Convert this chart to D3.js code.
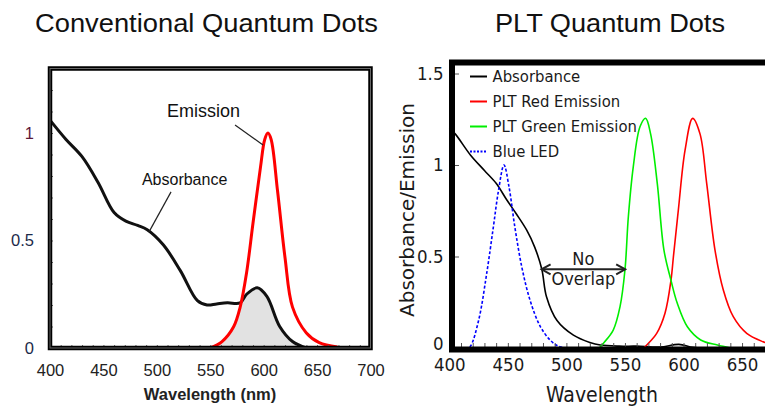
<!DOCTYPE html>
<html>
<head>
<meta charset="utf-8">
<script src="https://cdn.jsdelivr.net/npm/d3@7"></script>
<style>
  body { margin: 0; background: #fff; }
  .cond { font-family: "DejaVu Sans Condensed", "DejaVu Sans", sans-serif; font-stretch: condensed; }
  .arial { font-family: "Liberation Sans", Arial, sans-serif; }
</style>
</head>
<body>
<script>
// ---- data ----
var titles = ["Conventional Quantum Dots", "PLT Quantum Dots"];

// conventional QD panel (wavelength nm, value)
var convAbsorbance = [[400,1.06],[415,0.97],[430,0.89],[445,0.77],[460,0.63],[471,0.59],[482,0.57],[491,0.55],[506,0.48],
  [522,0.36],[538,0.22],[547,0.20],[556,0.205],[566,0.21],[578,0.21],[584,0.25],[594,0.28],[603,0.24],[615,0.10],[627,0.03],[640,0]];
var convEmission = [[550,0],[561,0.03],[572,0.10],[578,0.19],[584,0.35],[590,0.58],[597,0.84],[601,0.97],[604,1.0],[607,0.97],
  [613,0.73],[620,0.42],[627,0.19],[640,0.07],[652,0.025],[669,0.005]];
var convXTicks = [400,450,500,550,600,650,700];
var convYTicks = [0,0.5,1];

// PLT QD panel
var pltAbsorbance = [[400,1.20],[405,1.17],[418,1.055],[430,0.97],[440,0.90],[449,0.81],[457,0.735],[466,0.645],[473,0.55],
  [479,0.43],[483,0.28],[492,0.15],[506,0.07],[520,0.03],[529,0.016],[545,0.01],[560,0.01],[580,0.005],[596,0.02],[608,0.004],[620,0],[680,0]];
var pltRed = [[566,0],[568.6,0.016],[577.1,0.08],[584.2,0.19],[589.3,0.37],[591.4,0.5],[595.6,0.754],[601.3,1.08],[607.8,1.255],
  [614.1,1.17],[619.8,0.9],[626.9,0.535],[634,0.317],[642.5,0.171],[654,0.08],[668,0.034],[680,0.01]];
var pltGreen = [[528,0],[531.5,0.025],[540,0.098],[545.8,0.226],[550,0.426],[552.9,0.717],[557.1,0.99],[562.9,1.21],[567.7,1.255],
  [571.9,1.17],[577.6,0.90],[583.3,0.535],[589.3,0.37],[594.7,0.244],[603.3,0.116],[614.7,0.044],[629,0.016],[640,0]];
var blueLed = [[405,0],[415,0],[418,0.01],[425,0.15],[432,0.41],[437.6,0.66],[442,0.86],[446.7,1.0],[451,0.88],[456,0.66],
  [462,0.44],[469,0.26],[477.5,0.12],[486,0.044],[493,0.01],[500,0]];
var legendNames = ["Absorbance", "PLT Red Emission", "PLT Green Emission", "Blue LED"];
var pltXTicks = [400,450,500,550,600,650];
var pltYTicks = [0,0.5,1,1.5];

// ---- styles ----
var legendColors = ["#000", "#ff0000", "#00ee00", "#0000ff"];
var legendDash = [null, null, null, "3,2"];

var svg = d3.select("body").append("svg")
  .attr("width", 765)
  .attr("height", 408);

svg.append("rect").attr("width", 765).attr("height", 408).attr("fill", "#fff");

// titles
svg.append("text").attr("class", "arial")
  .attr("x", 35).attr("y", 32)
  .attr("font-size", 26).attr("textLength", 343).attr("lengthAdjust", "spacingAndGlyphs")
  .attr("fill", "#111")
  .text(titles[0]);
svg.append("text").attr("class", "arial")
  .attr("x", 495).attr("y", 32)
  .attr("font-size", 25).attr("textLength", 230).attr("lengthAdjust", "spacingAndGlyphs")
  .attr("fill", "#111")
  .text(titles[1]);

function lineOf(x, y) {
  return d3.line().x(d => x(d[0])).y(d => y(d[1])).curve(d3.curveCatmullRom.alpha(0.5));
}

// ================= left: conventional =================
var xL = d3.scaleLinear().domain([400, 700]).range([50, 370.5]);
var yL = d3.scaleLinear().domain([0, 1.3]).range([348, 68.5]);
var left = svg.append("g");

// overlap shading: emission rising edge, then absorbance tail
var overlap = convEmission.filter(d => d[0] <= 578).concat(convAbsorbance.filter(d => d[0] >= 584));
left.append("path")
  .datum(overlap)
  .attr("fill", "#e2e2e2")
  .attr("d", d3.area().x(d => xL(d[0])).y0(yL(0)).y1(d => yL(d[1])).curve(d3.curveCatmullRom.alpha(0.5)));

left.append("path").datum(convAbsorbance)
  .attr("fill", "none").attr("stroke", "#111").attr("stroke-width", 3)
  .attr("d", lineOf(xL, yL));
left.append("path").datum(convEmission)
  .attr("fill", "none").attr("stroke", "#ff0000").attr("stroke-width", 3)
  .attr("d", lineOf(xL, yL));

// axes with inner minor ticks
var xAxisL = left.append("g").attr("class", "arial")
  .attr("transform", "translate(0,348)")
  .call(d3.axisBottom(xL).tickValues(d3.range(31).map(i => 400 + i * 10)).tickSize(-3).tickPadding(16)
    .tickFormat(d => convXTicks.includes(d) ? d : ""));
var yAxisL = left.append("g").attr("class", "arial")
  .attr("transform", "translate(50,0)")
  .call(d3.axisLeft(yL).tickValues(d3.range(14).map(i => i / 10)).tickSize(-3).tickPadding(16)
    .tickFormat(d => convYTicks.includes(d) ? d : ""));
[xAxisL, yAxisL].forEach(function(a) {
  a.select(".domain").remove();
  a.selectAll("line").attr("stroke", "#666");
  a.selectAll("text").attr("font-size", 16.5).attr("fill", "#222");
});
yAxisL.selectAll("text").filter(d => d === 1).attr("fill", "#5c1838");
yAxisL.selectAll("text").filter(d => d !== 1).attr("fill", "#1c2a4a");

// frame
left.append("rect")
  .attr("x", xL(400)).attr("y", yL(1.3))
  .attr("width", xL(700) - xL(400)).attr("height", yL(0) - yL(1.3))
  .attr("fill", "none").attr("stroke", "#000").attr("stroke-width", 4.5);
left.append("rect")
  .attr("x", xL(400)).attr("y", yL(1.3))
  .attr("width", xL(700) - xL(400)).attr("height", yL(0) - yL(1.3))
  .attr("fill", "none").attr("stroke", "#666").attr("stroke-width", 1);

left.append("text").attr("class", "arial")
  .attr("x", 210).attr("y", 400).attr("text-anchor", "middle")
  .attr("font-size", 16.5).attr("font-weight", "bold").attr("fill", "#222")
  .text("Wavelength (nm)");

// callouts
var callouts = [
  { label: "Emission", at: [543.8, 1.073], from: [573.2, 1.037], to: [599.4, 0.944], size: 18 },
  { label: "Absorbance", at: [526, 0.758], from: [513.3, 0.726], to: [492.7, 0.54], size: 16 }
];
callouts.forEach(function(c) {
  left.append("text").attr("class", "arial")
    .attr("x", xL(c.at[0])).attr("y", yL(c.at[1])).attr("text-anchor", "middle")
    .attr("font-size", c.size).attr("fill", "#111")
    .text(c.label);
  left.append("line")
    .attr("x1", xL(c.from[0])).attr("y1", yL(c.from[1]))
    .attr("x2", xL(c.to[0])).attr("y2", yL(c.to[1]))
    .attr("stroke", "#222").attr("stroke-width", 1.2);
});

// ================= right: PLT =================
var xR = d3.scaleLinear().domain([400, 700]).range([449.3, 800.6]);
var yR = d3.scaleLinear().domain([0, 1.55]).range([348, 64.35]);
var right = svg.append("g");

var pltSeries = [pltAbsorbance, pltRed, pltGreen, blueLed];
pltSeries.forEach(function(s, i) {
  right.append("path").datum(s)
    .attr("fill", "none")
    .attr("stroke", legendColors[i])
    .attr("stroke-width", 1.6)
    .attr("stroke-dasharray", legendDash[i])
    .attr("d", lineOf(xR, yR));
});

var xAxisR = right.append("g").attr("class", "cond")
  .attr("transform", "translate(0,347)")
  .call(d3.axisBottom(xR).tickValues(d3.range(27).map(i => 400 + i * 10)).tickSize(-4).tickPadding(11)
    .tickFormat(d => pltXTicks.includes(d) ? d : ""));
var yAxisR = right.append("g").attr("class", "cond")
  .attr("transform", "translate(455,0)")
  .call(d3.axisLeft(yR).tickValues(pltYTicks).tickSize(-4).tickPadding(11.5).tickFormat(d => d));
[xAxisR, yAxisR].forEach(function(a) {
  a.select(".domain").remove();
  a.selectAll("line").attr("stroke", "#555");
  a.selectAll("text").attr("font-size", 18.5).attr("fill", "#1a1a1a");
});
yAxisR.selectAll("text").filter(d => d === 0).attr("dy", "0.1em");

// frame (right side runs off the picture)
right.append("rect")
  .attr("x", 452).attr("y", 62.5).attr("width", 400).attr("height", 287)
  .attr("fill", "none").attr("stroke", "#000").attr("stroke-width", 6);

// legend
var legend = right.append("g").attr("class", "cond");
legendNames.forEach(function(name, i) {
  var ly = 76.5 + i * 25;
  legend.append("line")
    .attr("x1", 470).attr("x2", 487).attr("y1", ly).attr("y2", ly)
    .attr("stroke", legendColors[i]).attr("stroke-width", 2)
    .attr("stroke-dasharray", legendDash[i] ? "2,1.5" : null);
  legend.append("text")
    .attr("x", 492.5).attr("y", ly + 5.5)
    .attr("font-size", 16.5).attr("fill", "#1a1a1a")
    .text(name);
});

// no-overlap arrow
var gap = { from: 478.8, to: 550.2, level: 0.43 };
var ay = yR(gap.level), ax1 = xR(gap.from), ax2 = xR(gap.to);
right.append("line")
  .attr("x1", ax1).attr("x2", ax2).attr("y1", ay).attr("y2", ay)
  .attr("stroke", "#222").attr("stroke-width", 2);
right.append("path")
  .attr("d", "M" + (ax1 + 9) + "," + (ay - 5) + "L" + ax1 + "," + ay + "L" + (ax1 + 9) + "," + (ay + 5) +
             "M" + (ax2 - 9) + "," + (ay - 5) + "L" + ax2 + "," + ay + "L" + (ax2 - 9) + "," + (ay + 5))
  .attr("fill", "none").attr("stroke", "#222").attr("stroke-width", 2);
right.append("text").attr("class", "cond")
  .attr("x", (ax1 + ax2) / 2).attr("y", ay - 4).attr("text-anchor", "middle")
  .attr("font-size", 18).attr("fill", "#1a1a1a").text("No");
right.append("text").attr("class", "cond")
  .attr("x", (ax1 + ax2) / 2).attr("y", ay + 15.5).attr("text-anchor", "middle")
  .attr("font-size", 18).attr("fill", "#1a1a1a").text("Overlap");

// axis titles
right.append("text").attr("class", "cond")
  .attr("x", 602).attr("y", 402).attr("text-anchor", "middle")
  .attr("font-size", 21).attr("fill", "#1a1a1a")
  .text("Wavelength");
right.append("text")
  .attr("transform", "translate(414,210) rotate(-90)")
  .attr("text-anchor", "middle")
  .style("font-family", "'DejaVu Sans', sans-serif")
  .attr("font-size", 20).attr("fill", "#1a1a1a")
  .text("Absorbance/Emission");
</script>
</body>
</html>
